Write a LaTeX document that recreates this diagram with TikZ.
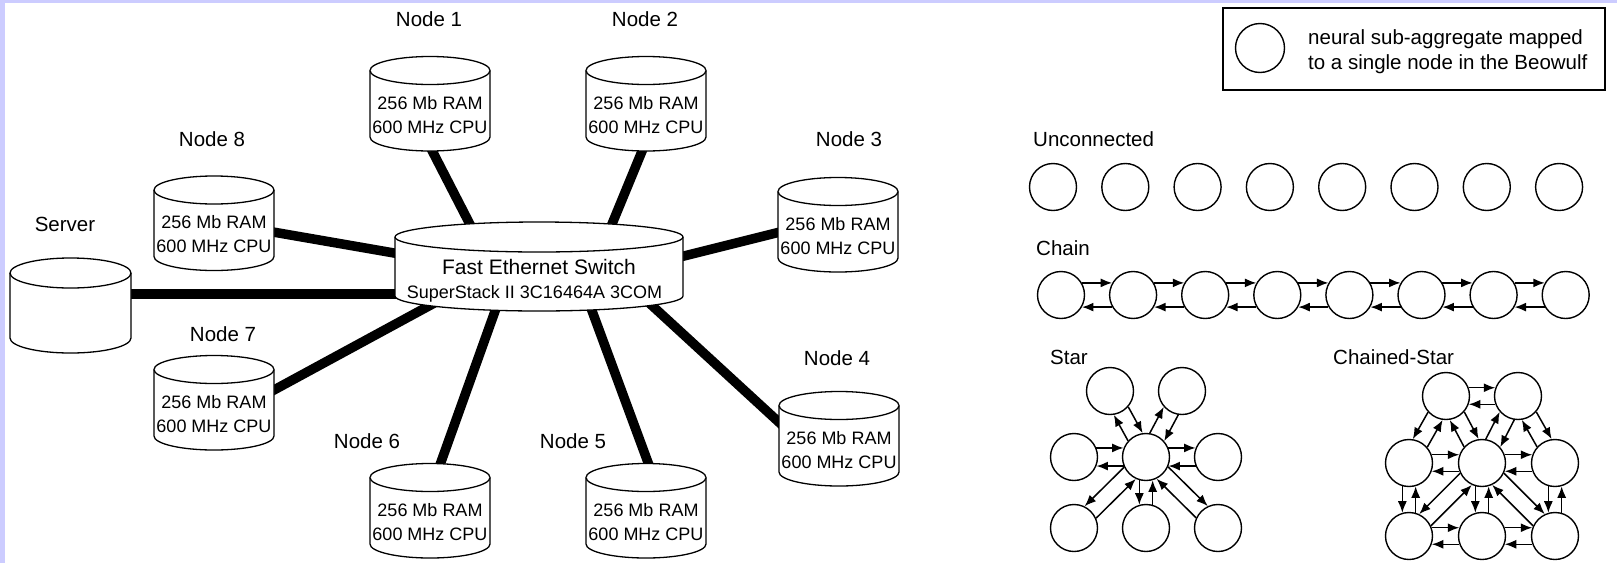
\documentclass[tikz,border=0pt]{standalone}
\usepackage{fontspec}
\setmainfont{Liberation Sans}
\usetikzlibrary{calc,arrows.meta}
\pgfdeclarelayer{bg}
\pgfsetlayers{bg,main}
\definecolor{lav}{RGB}{204,204,255}
% cylinder outline around a node: name, half width, top offset, bottom offset, ry
\newcommand\cylo[5]{%
  \path[cylline] ([shift={(-#2,#3-#5)}]#1.center) -- ([shift={(-#2,-#4+#5)}]#1.center)
    arc[start angle=180,end angle=360,x radius=#2pt,y radius=#5pt]
    -- ([shift={(#2,#3-#5)}]#1.center)
    arc[start angle=0,end angle=180,x radius=#2pt,y radius=#5pt] -- cycle;
  \draw[cylline] ([shift={(-#2,#3-#5)}]#1.center)
    arc[start angle=180,end angle=360,x radius=#2pt,y radius=#5pt];
}
% pair of opposite arrows between two circle nodes
\newcommand\bi[3]{%
  \draw[arr] let \p1=(#1.center), \p2=(#2.center),
    \n1={atan2(\y2-\y1,\x2-\x1)+(#3)}, \n2={atan2(\y2-\y1,\x2-\x1)+180-(#3)}
    in (#1.\n1) -- (#2.\n2);
  \draw[arr] let \p1=(#1.center), \p2=(#2.center),
    \n1={atan2(\y2-\y1,\x2-\x1)+180+(#3)}, \n2={atan2(\y2-\y1,\x2-\x1)-(#3)}
    in (#2.\n1) -- (#1.\n2);
}
\begin{document}
\begin{tikzpicture}[x=1pt,y=1pt,
  lab/.style={font=\fontsize{20.5}{24}\selectfont, inner sep=0pt},
  cyltext/.style={font=\fontsize{18}{24}\selectfont, align=center, inner sep=0pt},
  cylline/.style={draw=black, fill=white, line width=1.3pt},
  link/.style={line width=9.5pt},
  circ/.style={circle, draw, line width=1.4pt, minimum size=47pt, inner sep=0pt},
  arr/.style={-{Latex[length=11.5pt,width=9pt]}, line width=1.5pt}]
\useasboundingbox (0,0) rectangle (1617,-563);
\begin{pgfonlayer}{bg}
  \fill[lav] (0,0) rectangle (1617,-563);
  \fill[white] (5,-3) rectangle (1617,-563);
\end{pgfonlayer}

% ---------- network ----------
\node[cyltext] (n1) at (430,-115) {256 Mb RAM\\600 MHz CPU};
\node[cyltext] (n2) at (646,-115) {256 Mb RAM\\600 MHz CPU};
\node[cyltext] (n3) at (838,-236) {256 Mb RAM\\600 MHz CPU};
\node[cyltext] (n4) at (839,-450) {256 Mb RAM\\600 MHz CPU};
\node[cyltext] (n5) at (646,-522) {256 Mb RAM\\600 MHz CPU};
\node[cyltext] (n6) at (430,-522) {256 Mb RAM\\600 MHz CPU};
\node[cyltext] (n7) at (214,-414) {256 Mb RAM\\600 MHz CPU};
\node[cyltext] (n8) at (214,-234.5) {256 Mb RAM\\600 MHz CPU};
\coordinate (srv) at (70.5,-317);
\node[font=\fontsize{21}{24}\selectfont, inner sep=0pt] (sw) at (539,-267) {Fast Ethernet Switch};
\node[font=\fontsize{18}{24}\selectfont, inner sep=0pt] (swsub) at (534.5,-294) {SuperStack II 3C16464A 3COM};

\node[lab] (l1) at (429,-19) {Node 1};
\node[lab] (l2) at (645,-19) {Node 2};
\node[lab] (l3) at (849,-139) {Node 3};
\node[lab] (l4) at (837,-358) {Node 4};
\node[lab] (l5) at (573,-441) {Node 5};
\node[lab] (l6) at (367,-441) {Node 6};
\node[lab] (l7) at (223,-334) {Node 7};
\node[lab] (l8) at (212,-139) {Node 8};
\node[lab] (lsrv) at (65,-224) {Server};

\begin{pgfonlayer}{bg}
  \draw[link] ([shift={(29.5,23)}]srv.center) -- ([shift={(-119,-27)}]sw.center);
  \draw[link] ([shift={(36,6.5)}]n8.center) -- ([shift={(-119,9.5)}]sw.center);
  \draw[link] ([shift={(36,11)}]n7.center) -- ([shift={(-89,-27.5)}]sw.center);
  \draw[link] ([shift={(6,46)}]n6.center) -- ([shift={(-40,-33)}]sw.center);
  \draw[link] ([shift={(7,46)}]n5.center) -- ([shift={(49,-33)}]sw.center);
  \draw[link] ([shift={(-44,13)}]n4.center) -- ([shift={(95,-22)}]sw.center);
  \draw[link] ([shift={(-38,9)}]n3.center) -- ([shift={(121,5)}]sw.center);
  \draw[link] ([shift={(3.5,-18)}]n2.center) -- ([shift={(66,26)}]sw.center);
  \draw[link] ([shift={(-7,-18)}]n1.center) -- ([shift={(-62,29)}]sw.center);
  \cylo{sw}{144}{45}{44}{15}
  \cylo{srv}{60.5}{59}{36}{15}
  \cylo{n1}{60}{58.5}{36}{14}
  \cylo{n2}{60}{58.5}{36}{14}
  \cylo{n3}{60}{58.5}{36}{14}
  \cylo{n4}{60}{58.5}{36}{14}
  \cylo{n5}{60}{58.5}{36}{14}
  \cylo{n6}{60}{58.5}{36}{14}
  \cylo{n7}{60}{58.5}{36}{14}
  \cylo{n8}{60}{58.5}{36}{14}
\end{pgfonlayer}

% ---------- legend ----------
\node[draw, line width=1.3pt, minimum width=382pt, minimum height=82pt, inner sep=0pt] (legbox) at (1414,-49) {};
\node[circ, minimum size=49pt] (legc) at (1260,-48) {};
\node[font=\fontsize{20.5}{25}\selectfont, inner sep=0pt, align=left, anchor=west] (legt) at (1308,-51.5) {neural sub-aggregate mapped\\to a single node in the Beowulf};

% ---------- unconnected ----------
\node[lab, anchor=west] (lunc) at (1033,-139) {Unconnected};
\foreach \i in {0,...,7} \node[circ] (u\i) at ({1053+72.3*\i},-187) {};

% ---------- chain ----------
\node[lab, anchor=west] (lchain) at (1036,-248) {Chain};
\foreach \i in {0,...,7} \node[circ] (c\i) at ({1061+72.1*\i},-295) {};
\foreach \i in {0,...,6} {\pgfmathtruncatemacro\j{\i+1}\bi{c\i}{c\j}{30}}

% ---------- star ----------
\node[lab, anchor=west] (lstar) at (1050,-357) {Star};
\node[circ] (sTL) at (1110,-391) {};
\node[circ] (sTR) at (1182,-391) {};
\node[circ] (sML) at (1074,-457) {};
\node[circ] (sC)  at (1146,-457) {};
\node[circ] (sMR) at (1218,-457) {};
\node[circ] (sBL) at (1074,-528) {};
\node[circ] (sBC) at (1146,-528) {};
\node[circ] (sBR) at (1218,-528) {};
\bi{sML}{sC}{22}
\bi{sC}{sMR}{22}
\bi{sC}{sBC}{-16}
\bi{sTL}{sC}{20}
\bi{sC}{sTR}{20}
\bi{sC}{sBL}{-20}
\bi{sC}{sBR}{20}

% ---------- chained star ----------
\node[lab, anchor=west] (lcstar) at (1333,-357) {Chained-Star};
\node[circ] (cTL) at (1446,-396) {};
\node[circ] (cTR) at (1518,-396) {};
\node[circ] (cML) at (1409,-463) {};
\node[circ] (cMC) at (1482,-463) {};
\node[circ] (cMR) at (1555,-463) {};
\node[circ] (cBL) at (1409,-536) {};
\node[circ] (cBC) at (1482,-536) {};
\node[circ] (cBR) at (1555,-536) {};
\bi{cTL}{cTR}{20}
\bi{cTL}{cML}{-20}
\bi{cTL}{cMC}{20}
\bi{cMC}{cTR}{20}
\bi{cTR}{cMR}{20}
\bi{cML}{cMC}{20}
\bi{cMC}{cMR}{20}
\bi{cML}{cBL}{-16}
\bi{cMC}{cBC}{-16}
\bi{cMR}{cBR}{-16}
\bi{cMC}{cBL}{-20}
\bi{cMC}{cBR}{20}
\bi{cBL}{cBC}{20}
\bi{cBC}{cBR}{20}
\end{tikzpicture}
\end{document}
